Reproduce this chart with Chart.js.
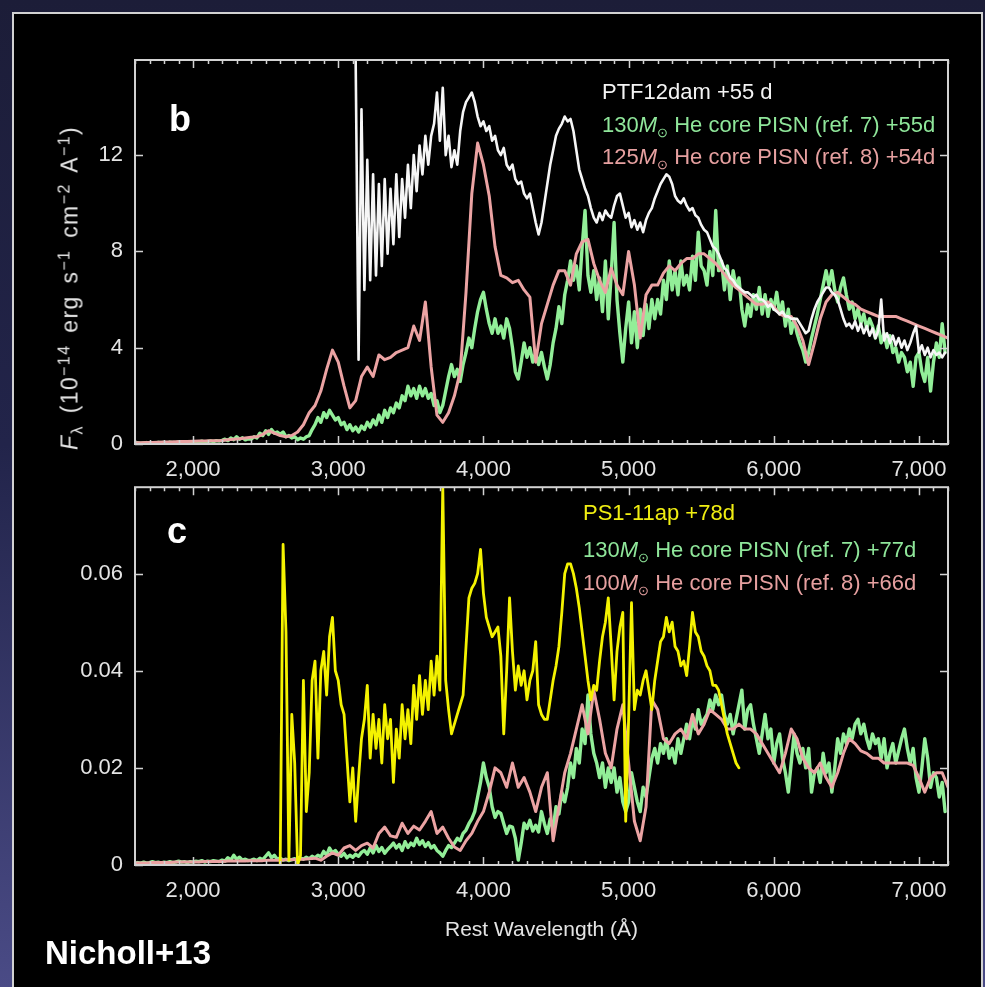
<!DOCTYPE html>
<html>
<head>
<meta charset="utf-8">
<title>PTF12dam and PS1-11ap spectra vs PISN models</title>
<script src="https://cdn.jsdelivr.net/npm/chart.js@4.4.0/dist/chart.umd.min.js"></script>
<style>
  html, body { margin: 0; padding: 0; }
  body {
    width: 985px; height: 987px; overflow: hidden; position: relative;
    background: linear-gradient(to bottom, #1c1d38 0%, #22244a 45%, #4a4b86 100%);
    font-family: 'Liberation Sans', Arial, Helvetica, sans-serif;
  }
  #panel {
    position: absolute; left: 12px; top: 12px; width: 967px; height: 1000px;
    background: #000; border: 2px solid #d2d2d2;
  }
  canvas { position: absolute; left: 0; }
  #chartB { top: 0; }
  #chartC { top: 470px; }
  .txt { position: absolute; white-space: nowrap; line-height: 26px; font-size: 22px; }
  .txt sub { font-size: 13px; vertical-align: -5px; line-height: 0; font-style: normal; }
  .white { color: #f4f4f4; }
  .green { color: #8fe69a; }
  .pink { color: #e6a0a0; }
  .yellow { color: #f0ee12; }
  .letter { position: absolute; color: #fff; font-weight: bold; font-size: 36px; line-height: 36px; }
  #ytitle {
    position: absolute; left: 70px; top: 288px; white-space: nowrap;
    transform: translate(-50%, -50%) rotate(-90deg);
    font-size: 23px; color: #e4e4e4; letter-spacing: 1.4px; word-spacing: 4px;
  }
  #ytitle sup { font-size: 16px; line-height: 0; vertical-align: 8px; }
  #ytitle sub { font-size: 16px; line-height: 0; vertical-align: -5px; }
  #credit { position: absolute; left: 45px; top: 936px; color: #fff; font-weight: bold; font-size: 33px; line-height: 33px; }
</style>
</head>
<body>
<div id="panel"></div>
<canvas id="chartB" width="985" height="480"></canvas>
<canvas id="chartC" width="985" height="517"></canvas>

<div class="letter" style="left:169px; top:101px;">b</div>
<div class="letter" style="left:167px; top:513px;">c</div>

<div class="txt white" style="left:602px; top:79px;">PTF12dam +55 d</div>
<div class="txt green" style="left:602px; top:112px;">130<i>M</i><sub>⊙</sub> He core PISN (ref. 7) +55d</div>
<div class="txt pink" style="left:602px; top:144px;">125<i>M</i><sub>⊙</sub> He core PISN (ref. 8) +54d</div>

<div class="txt yellow" style="left:583px; top:500px;">PS1-11ap +78d</div>
<div class="txt green" style="left:583px; top:537px;">130<i>M</i><sub>⊙</sub> He core PISN (ref. 7) +77d</div>
<div class="txt pink" style="left:583px; top:570px;">100<i>M</i><sub>⊙</sub> He core PISN (ref. 8) +66d</div>

<div id="ytitle"><i>F</i><sub>λ</sub> (10<sup>−14</sup> erg s<sup>−1</sup> cm<sup>−2</sup> A<sup>−1</sup>)</div>
<div id="credit">Nicholl+13</div>

<script>
// ---- Wavelength grid (rest frame, Å) and axis ticks ----
const WAVE_MIN = 1600, WAVE_MAX = 7200;
const waveTicks = [2000, 3000, 4000, 5000, 6000, 7000];
const fluxTicksB = [0, 4, 8, 12];          // 10^-14 erg s^-1 cm^-2 A^-1
const fluxTicksC = [0, 0.02, 0.04, 0.06];

// ---- Panel b: PTF12dam +55 d and PISN models ----
// PTF12dam observed spectrum, 20 Å sampling from 3120 Å
const ptf12damStart = 3120, ptf12damStep = 20;
const ptf12damFlux = [
  15.9, 3.5, 13.9, 6.4, 11.8, 6.8, 11.2, 7.0, 10.8, 7.4,
  11.0, 7.9, 10.6, 8.3, 11.2, 8.6, 11.0, 9.4, 11.6, 9.8,
  12.0, 10.5, 12.4, 11.2, 12.8, 11.6, 12.8, 13.3, 14.6, 12.6,
  14.8, 12.0, 12.8, 11.5, 12.2, 11.6, 13.0, 13.8, 14.2, 14.4,
  14.6, 14.2, 13.6, 13.2, 13.4, 13.0, 13.2, 12.6, 12.8, 12.2,
  12.0, 12.3, 11.6, 11.4, 11.6, 11.0, 10.8, 10.9, 10.4, 10.2,
  10.4, 9.8, 9.2, 8.7, 9.2, 10.0, 10.8, 11.6, 12.2, 12.8,
  13.1, 13.3, 13.6, 13.4, 13.5, 13.0, 12.2, 11.4, 11.0, 10.6,
  10.3, 9.8, 9.4, 9.2, 9.6, 9.3, 9.7, 9.5, 9.4, 9.9,
  10.3, 10.4, 9.9, 9.4, 9.6, 9.0, 9.3, 8.9, 9.2, 8.8,
  9.3, 9.6, 9.8, 10.2, 10.5, 10.8, 11.0, 11.2, 11.1, 10.8,
  10.3, 10.1, 10.0, 10.2, 9.9, 9.7, 9.8, 9.5, 9.4, 9.1,
  8.9, 8.8, 8.5, 8.2, 8.1, 7.9, 7.6, 7.3, 7.2, 6.9,
  6.8, 6.6, 6.5, 6.4, 6.3, 6.3, 6.2, 6.1, 6.2, 6.0,
  6.0, 5.9, 5.7, 5.8, 5.6, 5.5, 5.4, 5.5, 5.3, 5.3,
  5.2, 5.2, 5.2, 5.0, 4.8, 4.6, 4.7, 5.2, 5.6, 5.9,
  6.1, 6.3, 6.5, 6.5, 6.3, 6.2, 6.0, 5.6, 5.2, 4.9,
  5.0, 4.8, 5.1, 4.7, 5.0, 4.6, 4.9, 4.5, 4.8, 4.4,
  4.7, 6.0, 4.3, 4.6, 4.2, 4.5, 4.1, 4.4, 4.0, 4.3,
  3.9, 4.2, 4.6, 4.9, 3.8, 4.1, 3.7, 4.0, 3.6, 3.9,
  3.7, 3.8, 3.6, 3.8
];

// 130 Msun He core PISN (ref. 7) at +55d, 20 Å sampling from 1600 Å
const he130bStart = 1600, he130bStep = 20;
const he130bFlux = [
  0.03, 0.05, 0.02, 0.04, 0.06, 0.03, 0.05, 0.04, 0.07, 0.05,
  0.06, 0.04, 0.08, 0.06, 0.05, 0.09, 0.07, 0.06, 0.1, 0.08,
  0.07, 0.1, 0.09, 0.12, 0.08, 0.11, 0.13, 0.1, 0.14, 0.12,
  0.15, 0.2, 0.14, 0.25, 0.18, 0.3, 0.2, 0.26, 0.17, 0.22,
  0.2, 0.3, 0.25, 0.45, 0.35, 0.55, 0.4, 0.6, 0.45, 0.5,
  0.4, 0.5, 0.3, 0.35, 0.25, 0.3, 0.18, 0.25, 0.2, 0.3,
  0.35, 0.6, 0.8, 1.1, 0.9, 1.3, 1.1, 1.4, 1.2, 1.0,
  1.1, 0.8, 0.9, 0.6, 0.8, 0.55, 0.7, 0.5, 0.75, 0.6,
  0.9, 0.7, 1.0, 0.8, 1.2, 0.9, 1.4, 1.1, 1.5, 1.3,
  1.7, 1.5, 2.0, 1.8, 2.4, 2.0, 2.3, 1.9, 2.4, 2.0,
  2.3, 1.9, 2.1, 1.6, 1.8, 1.3, 1.6, 2.2, 2.8, 3.3,
  2.8, 3.1, 2.6, 3.3, 3.8, 4.4, 4.0, 4.8, 5.5, 6.0,
  6.3, 5.6, 5.0, 4.6, 5.2, 4.6, 4.9, 4.4, 5.2, 4.8,
  4.0, 3.0, 2.7, 3.4, 4.2, 3.6, 4.0, 3.4, 3.8, 3.3,
  3.8, 3.2, 2.7, 3.3, 4.2, 4.8, 5.7, 5.0, 6.2, 6.8,
  7.6, 6.8, 7.4, 6.4, 8.2, 9.7, 7.0, 6.3, 7.2, 6.0,
  6.9, 5.5, 7.6, 5.2, 7.0, 9.2, 6.0, 4.6, 3.4, 4.8,
  5.9, 4.2, 5.5, 4.0, 5.6, 4.5, 5.8, 4.8, 6.0, 5.2,
  6.0, 5.4, 6.8, 6.0, 7.6, 6.4, 7.2, 6.2, 7.6, 6.6,
  7.0, 6.4, 7.8, 6.8, 8.8, 7.4, 7.2, 6.6, 8.0, 7.0,
  9.7, 7.2, 7.6, 6.4, 7.4, 6.0, 7.2, 6.5, 6.9, 5.6,
  4.9, 5.8, 5.3, 6.2, 5.6, 6.5, 5.4, 6.2, 5.3, 6.0,
  5.6, 6.3, 5.4, 5.9, 4.9, 5.6, 4.6, 5.2, 4.6, 4.2,
  3.9, 3.4, 3.8, 4.4, 4.9, 5.4, 6.0, 6.6, 7.2, 6.6,
  7.2, 6.4, 5.9, 6.5, 6.9, 6.2, 5.6, 5.9, 5.2, 5.6,
  5.0, 5.4, 4.8, 5.2, 4.9, 4.4, 4.9, 4.2, 4.6, 4.0,
  4.5, 3.8, 4.0, 3.4, 3.8, 3.6, 3.0, 3.4, 2.4, 3.6,
  3.8, 3.0, 2.6, 3.6, 2.2, 3.4, 4.2, 3.6, 5.0, 3.8
];

// 125 Msun He core PISN (ref. 8) at +54d, 40 Å sampling from 1600 Å
const he125bStart = 1600, he125bStep = 40;
const he125bFlux = [
  0.05, 0.05, 0.06, 0.06, 0.07, 0.08, 0.08, 0.09, 0.1, 0.1,
  0.11, 0.12, 0.12, 0.13, 0.14, 0.15, 0.18, 0.2, 0.22, 0.25,
  0.28, 0.3, 0.4, 0.55, 0.45, 0.35, 0.3, 0.35, 0.5, 0.8,
  1.3, 1.6, 2.2, 3.1, 3.9, 3.4, 2.4, 1.5, 1.8, 2.8,
  3.2, 2.8, 3.7, 3.5, 3.6, 3.8, 3.9, 4.0, 4.9, 4.3,
  5.9, 3.2, 1.2, 0.9, 1.3, 2.0, 3.0, 6.3, 10.4, 12.5,
  11.6, 10.3, 8.2, 7.0, 6.9, 6.7, 6.8, 6.4, 6.1, 3.4,
  5.0, 5.8, 6.6, 7.2, 7.2, 6.6, 7.9, 8.4, 8.5, 7.5,
  6.8, 6.3, 7.3, 6.6, 6.2, 8.0, 6.6, 4.4, 6.2, 6.6,
  6.6, 7.1, 7.4, 7.2, 7.5, 7.7, 7.7, 7.9, 7.9, 7.7,
  7.5, 7.2, 6.9, 6.6, 6.4, 6.2, 6.0, 5.8, 5.8, 5.9,
  5.7, 5.4, 5.3, 5.3, 4.9, 4.3, 3.3, 4.2, 5.2, 5.9,
  6.2, 6.3, 6.1, 5.9, 5.8, 5.6, 5.5, 5.4, 5.3, 5.3,
  5.3, 5.3, 5.2, 5.1, 5.0, 4.9, 4.8, 4.7, 4.6, 4.5,
  4.4
];

// ---- Panel c: PS1-11ap +78d and PISN models ----
// PS1-11ap observed spectrum, 20 Å sampling from 2600 Å
const ps111apStart = 2600, ps111apStep = 20;
const ps111apFlux = [
  0, 0.066, 0.048, 0.001, 0.031, 0.021, 0.0, 0.002, 0.038, 0.011,
  0.019, 0.038, 0.042, 0.022, 0.040, 0.044, 0.035, 0.047, 0.051, 0.040,
  0.038, 0.033, 0.031, 0.022, 0.013, 0.020, 0.009, 0.018, 0.026, 0.030,
  0.037, 0.022, 0.031, 0.024, 0.030, 0.021, 0.033, 0.026, 0.030, 0.017,
  0.028, 0.022, 0.033, 0.026, 0.032, 0.025, 0.037, 0.030, 0.039, 0.031,
  0.038, 0.032, 0.042, 0.035, 0.043, 0.036, 0.078, 0.038, 0.032, 0.027,
  0.029, 0.031, 0.033, 0.035, 0.045, 0.055, 0.057, 0.058, 0.060, 0.065,
  0.056, 0.051, 0.049, 0.047, 0.048, 0.049, 0.043, 0.027, 0.040, 0.055,
  0.044, 0.036, 0.041, 0.037, 0.040, 0.034, 0.038, 0.040, 0.046, 0.033,
  0.031, 0.030, 0.030, 0.034, 0.038, 0.041, 0.045, 0.052, 0.060, 0.062,
  0.062, 0.060, 0.057, 0.053, 0.048, 0.043, 0.038, 0.034, 0.037, 0.036,
  0.042, 0.047, 0.050, 0.055, 0.045, 0.034, 0.044, 0.049, 0.052, 0.009,
  0.030, 0.054, 0.032, 0.036, 0.035, 0.038, 0.040, 0.036, 0.032, 0.038,
  0.042, 0.046, 0.047, 0.051, 0.048, 0.050, 0.045, 0.044, 0.041, 0.042,
  0.039, 0.045, 0.052, 0.048, 0.047, 0.044, 0.043, 0.041, 0.040, 0.037,
  0.037, 0.036, 0.033, 0.030, 0.027, 0.025, 0.023, 0.021, 0.020
];

// 130 Msun He core PISN (ref. 7) at +77d, 20 Å sampling from 1600 Å
const he130cStart = 1600, he130cStep = 20;
const he130cFlux = [
  0.0003, 0.0005, 0.0004, 0.0006, 0.0004, 0.0005, 0.0007, 0.0005, 0.0006, 0.0004,
  0.0006, 0.0005, 0.0007, 0.0005, 0.0006, 0.0008, 0.0006, 0.0007, 0.0005, 0.0007,
  0.0006, 0.0008, 0.0007, 0.0009, 0.0006, 0.0008, 0.0007, 0.0009, 0.0008, 0.0007,
  0.001, 0.0008, 0.0015, 0.001, 0.002, 0.0012, 0.0016, 0.001, 0.0012, 0.0009,
  0.001, 0.0012, 0.0009, 0.0014, 0.0011, 0.0018, 0.0025, 0.0015, 0.002, 0.0012,
  0.0014, 0.001, 0.0012, 0.0009, 0.0011, 0.0013, 0.001, 0.0014, 0.0012, 0.0016,
  0.0013, 0.0018, 0.0015, 0.002, 0.0017, 0.0028, 0.002, 0.0035, 0.0025, 0.003,
  0.0022, 0.0018, 0.0024, 0.0015, 0.002, 0.0016, 0.0022, 0.0018, 0.0026, 0.003,
  0.0022, 0.0035, 0.0025, 0.004, 0.0028, 0.0036, 0.0024, 0.0032, 0.0038, 0.0045,
  0.0035, 0.0042, 0.003, 0.0048, 0.0036, 0.0045, 0.004, 0.0055, 0.0042, 0.005,
  0.0038, 0.0046, 0.0035, 0.004, 0.003, 0.0025, 0.0018, 0.003, 0.004, 0.0036,
  0.0045, 0.0055, 0.005, 0.0065, 0.0072, 0.0085, 0.0095, 0.011, 0.014, 0.017,
  0.021, 0.018, 0.016, 0.012, 0.0098, 0.011, 0.0106, 0.0085, 0.0065, 0.008,
  0.0078, 0.0055, 0.001, 0.0045, 0.0086, 0.0075, 0.0092, 0.007, 0.0082, 0.0068,
  0.011, 0.0085, 0.0065, 0.0095, 0.0075, 0.012, 0.0105, 0.015, 0.013, 0.016,
  0.021, 0.018, 0.024, 0.021, 0.028, 0.025, 0.035, 0.027, 0.023, 0.021,
  0.018, 0.021, 0.016, 0.02, 0.017, 0.02, 0.015, 0.018, 0.013, 0.011,
  0.013, 0.019, 0.016, 0.013, 0.011, 0.016, 0.014, 0.018, 0.022, 0.024,
  0.021, 0.025, 0.023, 0.026, 0.022, 0.024, 0.021, 0.026, 0.023, 0.026,
  0.029, 0.026, 0.03, 0.028, 0.032, 0.029, 0.03, 0.031, 0.034, 0.032,
  0.035, 0.033, 0.035, 0.031, 0.029, 0.031, 0.027, 0.03, 0.033, 0.036,
  0.028, 0.032, 0.033, 0.029, 0.026, 0.023, 0.027, 0.031, 0.026, 0.028,
  0.021, 0.025, 0.027, 0.022, 0.019, 0.015, 0.021, 0.027, 0.023, 0.021,
  0.024, 0.02, 0.024, 0.015, 0.019, 0.02, 0.017, 0.023, 0.019, 0.021,
  0.015, 0.02, 0.026, 0.023, 0.027, 0.025, 0.028, 0.026, 0.029, 0.03,
  0.027, 0.029, 0.026, 0.024, 0.027, 0.025, 0.026, 0.022, 0.026, 0.02,
  0.023, 0.025, 0.021, 0.0235, 0.026, 0.028, 0.024, 0.021, 0.024, 0.018,
  0.015, 0.02, 0.026, 0.022, 0.016, 0.019, 0.018, 0.014, 0.017, 0.011
];

// 100 Msun He core PISN (ref. 8) at +66d, 40 Å sampling from 1600 Å
const he100cStart = 1600, he100cStep = 40;
const he100cFlux = [
  0.0004, 0.0004, 0.0004, 0.0005, 0.0005, 0.0005, 0.0005, 0.0006, 0.0006, 0.0006,
  0.0006, 0.0006, 0.0007, 0.0007, 0.0007, 0.0007, 0.0008, 0.0008, 0.0008, 0.0008,
  0.0009, 0.0009, 0.0009, 0.001, 0.001, 0.001, 0.0011, 0.0011, 0.0012, 0.0012,
  0.0013, 0.0014, 0.001, 0.0018, 0.0025, 0.002, 0.0035, 0.004, 0.003, 0.004,
  0.0045, 0.0035, 0.0065, 0.0078, 0.006, 0.0057, 0.0086, 0.0065, 0.008, 0.0072,
  0.009, 0.011, 0.0065, 0.0078, 0.0055, 0.0037, 0.003, 0.005, 0.0065, 0.009,
  0.011, 0.015, 0.020, 0.019, 0.016, 0.021, 0.016, 0.018, 0.015, 0.011,
  0.016, 0.019, 0.005, 0.012, 0.019, 0.023, 0.028, 0.033, 0.027, 0.036,
  0.030, 0.023, 0.020, 0.028, 0.033, 0.021, 0.009, 0.005, 0.012, 0.034,
  0.032, 0.026, 0.025, 0.027, 0.028, 0.026, 0.031, 0.027, 0.029, 0.032,
  0.031, 0.030, 0.028, 0.028, 0.029, 0.028, 0.028, 0.027, 0.025, 0.023,
  0.021, 0.019, 0.023, 0.028, 0.026, 0.022, 0.020, 0.019, 0.021, 0.018,
  0.016, 0.019, 0.023, 0.026, 0.025, 0.0235, 0.023, 0.022, 0.022, 0.021,
  0.021, 0.021, 0.021, 0.021, 0.0205, 0.018, 0.015, 0.018, 0.019, 0.019,
  0.016
];

// ---- Helpers ----
function spectrum(start, step, flux) {
  return flux.map((f, i) => ({ x: start + i * step, y: f }));
}

const TEXT = '#e4e4e4';
const FRAME = '#d2d2d2';
const FONT = "'Liberation Sans', Arial, Helvetica, sans-serif";

// Frame plus inward tick marks on all four sides (IDL-style plot box)
const frameTicks = {
  id: 'frameTicks',
  afterDatasetsDraw(chart) {
    const { ctx, chartArea: a, scales: { x, y } } = chart;
    ctx.save();
    ctx.strokeStyle = FRAME;
    ctx.lineWidth = 2;
    ctx.strokeRect(a.left, a.top, a.right - a.left, a.bottom - a.top);
    ctx.lineWidth = 1.5;
    ctx.beginPath();
    for (let v = Math.ceil(x.min / 100) * 100; v <= x.max; v += 100) {
      const px = Math.round(x.getPixelForValue(v)) + 0.5;
      const len = v % 1000 === 0 ? 8 : 4;
      ctx.moveTo(px, a.bottom); ctx.lineTo(px, a.bottom - len);
      ctx.moveTo(px, a.top); ctx.lineTo(px, a.top + len);
    }
    y.ticks.forEach(t => {
      const py = Math.round(y.getPixelForValue(t.value)) + 0.5;
      ctx.moveTo(a.left, py); ctx.lineTo(a.left + 8, py);
      ctx.moveTo(a.right, py); ctx.lineTo(a.right - 8, py);
    });
    ctx.stroke();
    ctx.restore();
  }
};

function lineSet(data, color, width) {
  return {
    data, borderColor: color, borderWidth: width,
    pointRadius: 0, tension: 0, fill: false,
    borderJoinStyle: 'round', borderCapStyle: 'round'
  };
}

function makeOptions(cfg) {
  return {
    responsive: false, animation: false, devicePixelRatio: 1,
    layout: { padding: { left: 0, right: 37, top: cfg.padTop, bottom: 0 } },
    plugins: { legend: { display: false }, tooltip: { enabled: false } },
    scales: {
      x: {
        type: 'linear', min: WAVE_MIN, max: WAVE_MAX,
        afterBuildTicks: s => { s.ticks = waveTicks.map(v => ({ value: v })); },
        afterFit: s => { s.height = cfg.xHeight; },
        grid: { display: false }, border: { display: false },
        ticks: { color: TEXT, font: { family: FONT, size: 22 }, padding: 5, maxRotation: 0, autoSkip: false },
        title: cfg.xTitle ? {
          display: true, text: cfg.xTitle, color: TEXT,
          font: { family: FONT, size: 21 }, padding: { top: 0, bottom: 44 }
        } : { display: false }
      },
      y: {
        type: 'linear', min: 0, max: cfg.yMax,
        afterBuildTicks: s => { s.ticks = cfg.yTicks.map(v => ({ value: v })); },
        afterFit: s => { s.width = 135; },
        grid: { display: false }, border: { display: false },
        ticks: {
          color: TEXT, font: { family: FONT, size: 22 }, padding: 4,
          callback: v => (v === 0 ? '0' : (cfg.yDecimals ? v.toFixed(cfg.yDecimals) : String(v)))
        }
      }
    }
  };
}

// Panel b
new Chart(document.getElementById('chartB'), {
  type: 'line',
  data: {
    datasets: [
      lineSet(spectrum(ptf12damStart, ptf12damStep, ptf12damFlux), '#f6f6f6', 2.6),
      lineSet(spectrum(he125bStart, he125bStep, he125bFlux), '#eba3a3', 3),
      lineSet(spectrum(he130bStart, he130bStep, he130bFlux), '#92ee98', 3.4)
    ]
  },
  options: makeOptions({ padTop: 60, xHeight: 36, yMax: 15.95, yTicks: fluxTicksB, yDecimals: 0 }),
  plugins: [frameTicks]
});

// Panel c
new Chart(document.getElementById('chartC'), {
  type: 'line',
  data: {
    datasets: [
      lineSet(spectrum(ps111apStart, ps111apStep, ps111apFlux), '#f4f200', 2.8),
      lineSet(spectrum(he100cStart, he100cStep, he100cFlux), '#eba3a3', 3),
      lineSet(spectrum(he130cStart, he130cStep, he130cFlux), '#92ee98', 3.4)
    ]
  },
  options: makeOptions({ padTop: 15, xHeight: 122, yMax: 0.0778, yTicks: fluxTicksC, yDecimals: 2, xTitle: 'Rest Wavelength (Å)' }),
  plugins: [frameTicks]
});
</script>
</body>
</html>
